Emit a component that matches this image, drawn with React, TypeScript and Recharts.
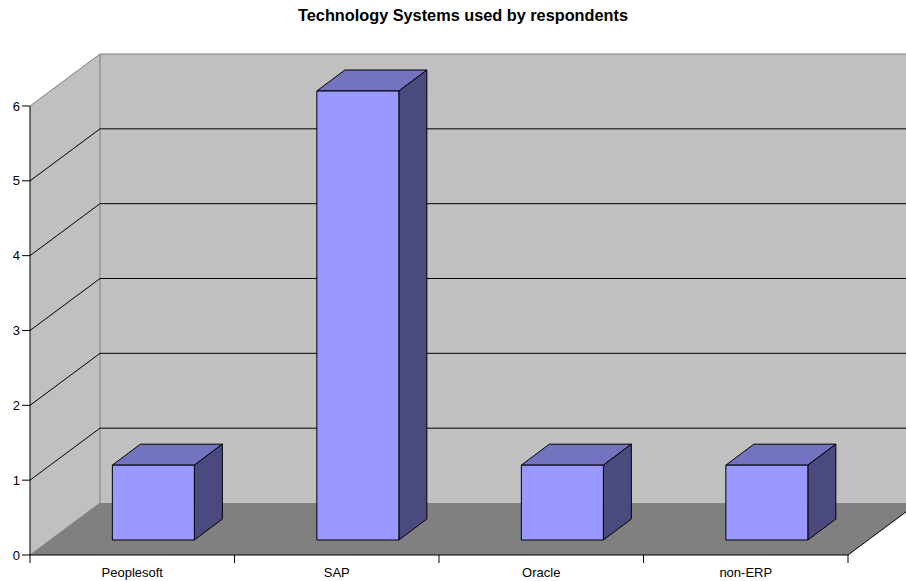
import { BarChart, Bar, XAxis, YAxis, CartesianGrid } from "recharts";

const systems = ["Peoplesoft", "SAP", "Oracle", "non-ERP"];
const respondents = [1, 6, 1, 1];
const yTicks = [0, 1, 2, 3, 4, 5, 6];

const data = systems.map((name, i) => ({ name, value: respondents[i] }));

const FONT = '"Liberation Sans", Arial, Helvetica, sans-serif';

// oblique depth of the 3d box (back wall offset)
const DEPTH_X = 70;
const DEPTH_Y = 52;
// where the column sits inside that depth
const FRONT_X = 21;
const FRONT_Y = 15;
const BOX_X = 28;
const BOX_Y = 21;

const WALL = "#c0c0c0";
const FLOOR = "#808080";
const EDGE = "#808080";

const plotEdges = (p: any) => {
  const top = p.y != null ? p.y : 106;
  const bottom = p.y != null && p.height != null ? p.y + p.height : 555;
  return { top, bottom };
};

// walls + floor, drawn once from the zero grid line
const Walls = (p: any) => {
  const { x1, x2, y1, index } = p;
  const { top, bottom } = plotEdges(p);
  if (Math.abs(y1 - bottom) > 1) return <g key={`w-${index}`} />;
  const bx1 = x1 + DEPTH_X;
  const bx2 = x2 + DEPTH_X;
  const bTop = top - DEPTH_Y;
  const bBot = bottom - DEPTH_Y;
  return (
    <g key={`w-${index}`}>
      <polygon
        points={`${x1},${top} ${bx1},${bTop} ${bx1},${bBot} ${x1},${bottom}`}
        fill={WALL}
      />
      <rect x={bx1} y={bTop} width={bx2 - bx1} height={bBot - bTop} fill={WALL} />
      <polygon
        points={`${x1},${bottom} ${x2},${bottom} ${bx2},${bBot} ${bx1},${bBot}`}
        fill={FLOOR}
      />
      <polyline
        points={`${x1},${top} ${bx1},${bTop} ${bx2},${bTop}`}
        fill="none"
        stroke={EDGE}
      />
      <line x1={bx1} y1={bTop} x2={bx1} y2={bBot} stroke={EDGE} />
      <line x1={x1} y1={bottom} x2={bx1} y2={bBot} stroke={EDGE} />
      <line x1={x2} y1={bottom} x2={bx2} y2={bBot} stroke="#000" />
    </g>
  );
};

const GridLine = (p: any) => {
  const { x1, x2, y1, index } = p;
  const { top, bottom } = plotEdges(p);
  if (Math.abs(y1 - bottom) < 1 || Math.abs(y1 - top) < 1)
    return <g key={`g-${index}`} />;
  const by = y1 - DEPTH_Y;
  return (
    <g key={`g-${index}`} stroke="#000" strokeWidth={1}>
      <line x1={x1} y1={y1} x2={x1 + DEPTH_X} y2={by} />
      <line x1={x1 + DEPTH_X} y1={by} x2={x2 + DEPTH_X} y2={by} />
    </g>
  );
};

const Box = (p: any) => {
  const { x, y, width, height } = p;
  const fx = x + FRONT_X;
  const fy = y - FRONT_Y;
  return (
    <g stroke="#000" strokeWidth={1} strokeLinejoin="round">
      <polygon
        points={`${fx},${fy} ${fx + width},${fy} ${fx + width + BOX_X},${fy - BOX_Y} ${fx + BOX_X},${fy - BOX_Y}`}
        fill="#7373bf"
      />
      <polygon
        points={`${fx + width},${fy} ${fx + width + BOX_X},${fy - BOX_Y} ${fx + width + BOX_X},${fy + height - BOX_Y} ${fx + width},${fy + height}`}
        fill="#4b4a7e"
      />
      <rect x={fx} y={fy} width={width} height={height} fill="#9999ff" />
    </g>
  );
};

// category label in the middle, tick marks on the band edges
const CategoryTick = (p: any) => {
  const { x, y, payload, index, visibleTicksCount } = p;
  const half = payload && payload.offset ? payload.offset : 818 / 8;
  const axisY = y - 13;
  return (
    <g>
      <line x1={x - half} y1={axisY} x2={x - half} y2={axisY + 8} stroke="#000" />
      {index === visibleTicksCount - 1 && (
        <line x1={x + half} y1={axisY} x2={x + half} y2={axisY + 8} stroke="#000" />
      )}
      <text
        x={x}
        y={y}
        dy="0.71em"
        textAnchor="middle"
        fontSize={13}
        fontFamily={FONT}
        fill="#000"
      >
        {payload.value}
      </text>
    </g>
  );
};

export default function App() {
  return (
    <div
      style={{
        position: "absolute",
        left: 0,
        top: 0,
        width: 906,
        height: 581,
        overflow: "hidden",
        background: "#fff",
      }}
    >
      <div
        style={{
          position: "absolute",
          top: 6,
          left: 0,
          width: 926,
          textAlign: "center",
          fontFamily: FONT,
          fontWeight: "bold",
          fontSize: 16.3,
          color: "#000",
        }}
      >
        Technology Systems used by respondents
      </div>
      <BarChart
        width={906}
        height={581}
        data={data}
        margin={{ top: 106, right: 58, bottom: 0, left: 5 }}
        barCategoryGap="30%"
      >
        <CartesianGrid horizontal={Walls} vertical={false} />
        <CartesianGrid horizontal={GridLine} vertical={false} />
        <XAxis
          dataKey="name"
          height={26}
          axisLine={{ stroke: "#000" }}
          tickLine={false}
          tickSize={8}
          tickMargin={5}
          interval={0}
          tick={CategoryTick}
        />
        <YAxis
          width={25}
          domain={[0, 6]}
          ticks={yTicks}
          interval={0}
          axisLine={{ stroke: "#000" }}
          tickLine={{ stroke: "#000" }}
          tickSize={8}
          tickMargin={2}
          tick={{ fontSize: 13, fill: "#000", fontFamily: FONT }}
        />
        <Bar dataKey="value" shape={Box} isAnimationActive={false} />
      </BarChart>
    </div>
  );
}
